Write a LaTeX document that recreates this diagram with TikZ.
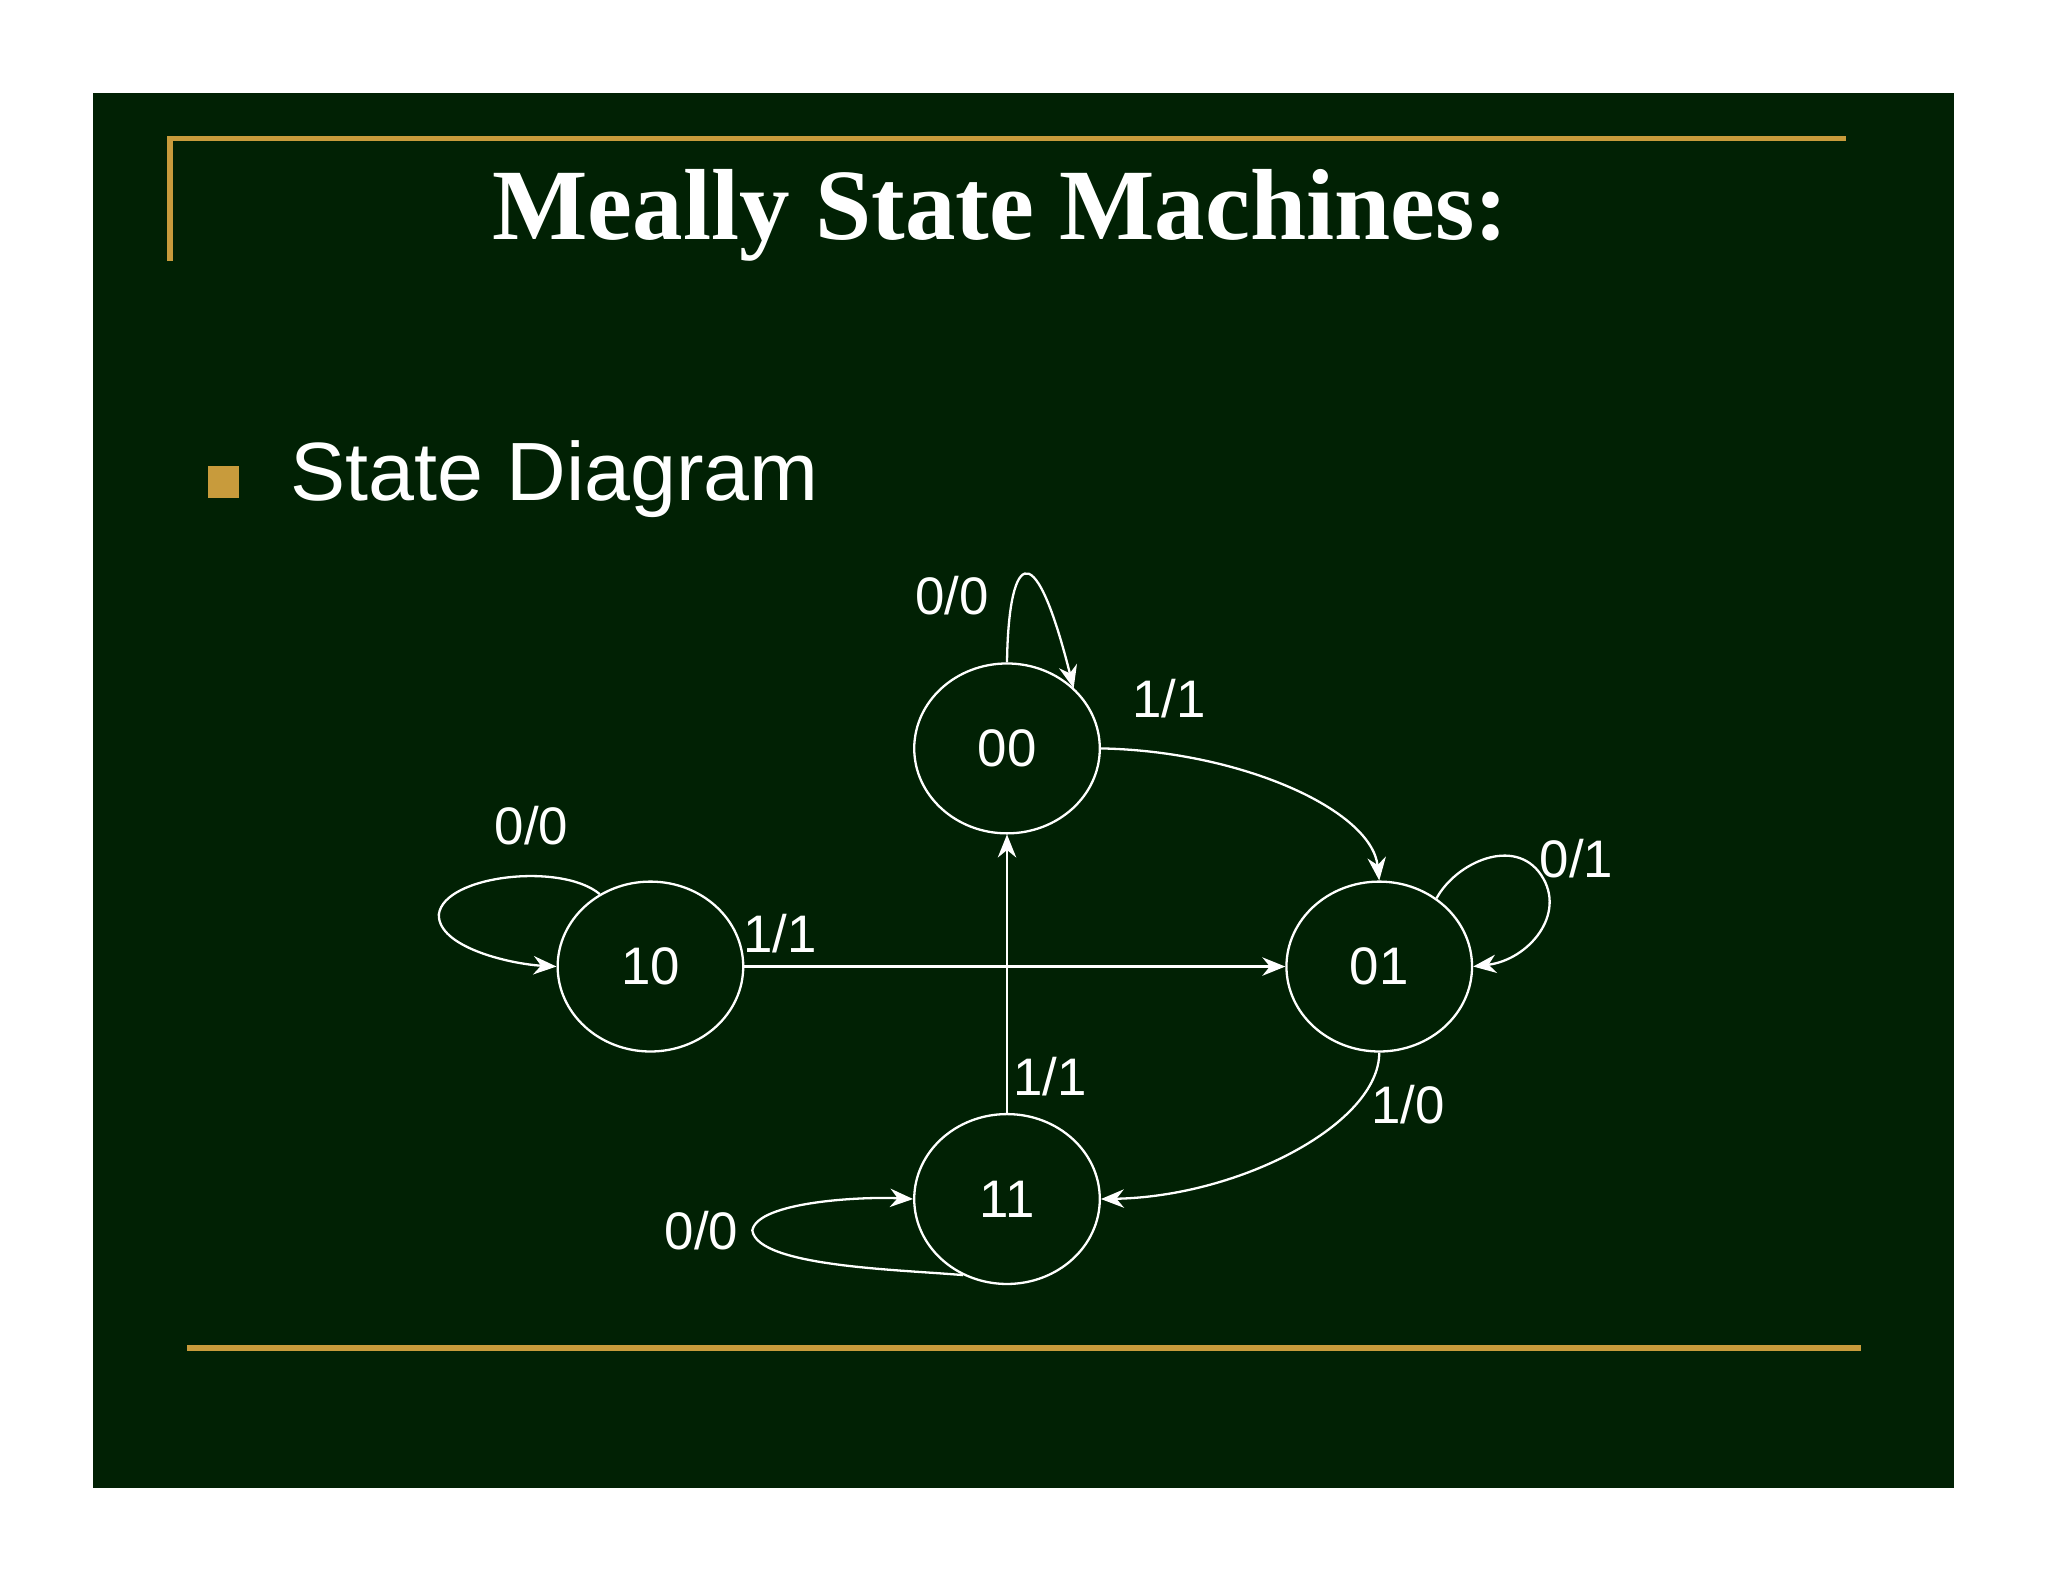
\documentclass[tikz,border=0pt]{standalone}
\usepackage{fontspec}
\setmainfont{Liberation Serif}
\setsansfont{Liberation Sans}
\usetikzlibrary{arrows.meta}
\definecolor{bg}{HTML}{012104}
\definecolor{gold}{HTML}{C89B3C}
\begin{document}
\begin{tikzpicture}[x=0.01cm,y=-0.01cm,
  st/.style={draw=white,ellipse,minimum width=142\pgflinewidth,line width=0.5pt},
  edge/.style={draw=white,line width=0.5pt,-{Stealth[length=5pt,width=4pt]}},
  lbl/.style={text=white,font=\sffamily\fontsize{11.5}{12}\selectfont}]
\useasboundingbox (0,0) rectangle (1568,1211);
\fill[white] (0,0) rectangle (1568,1211);
\fill[bg] (71,71) rectangle (1496,1139);
\draw[gold,line width=1.2pt] (130,200) -- (130,106) -- (1413,106);
\draw[gold,line width=1.2pt] (143,1032) -- (1425,1032);
\node[text=white,font=\bfseries\fontsize{22}{24}\selectfont] (title) at (766,165) {Meally State Machines:};
\fill[gold] (159,357) rectangle (183,381);
\node[text=white,font=\sffamily\fontsize{18}{20}\selectfont,anchor=base west] (sd) at (210,383) {State Diagram};
\tikzset{ell/.style={draw=white,line width=0.5pt,shape=ellipse,minimum width=1.42cm,minimum height=1.3cm,inner sep=0pt,text=white,font=\sffamily\fontsize{11.5}{12}\selectfont}}
\usetikzlibrary{shapes.geometric}
\node[ell] (s00) at (771,573) {00};
\node[ell] (s10) at (498,740) {10};
\node[ell] (s01) at (1056,740) {01};
\node[ell] (s11) at (771,918) {11};
% loops
\draw[edge] (s00.90) .. controls (772,430) and (790,400) .. (822,527);
\node[lbl] (l1) at (729,456) {0/0};
\draw[edge] (s10.125) .. controls (430,660) and (340,670) .. (336,700) .. controls (335,725) and (390,738) .. (s10.180);
\node[lbl] (l2) at (407,632) {0/0};
\draw[edge] (s01.50) .. controls (1115,660) and (1160,640) .. (1180,670) .. controls (1200,700) and (1170,735) .. (s01.0);
\node[lbl] (l3) at (1207,657) {0/1};
\draw[edge] (s11.240) .. controls (690,972) and (580,970) .. (576,942) .. controls (580,920) and (660,916) .. (s11.180);
\node[lbl] (l4) at (537,942) {0/0};
% transitions
\draw[edge] (s00.0) .. controls (950,575) and (1050,620) .. (s01.90);
\node[lbl] (l5) at (895,535) {1/1};
\draw[edge] (s10.0) -- (s01.180);
\node[lbl] (l6) at (597,715) {1/1};
\draw[edge] (s11.90) -- (s00.270);
\node[lbl] (l7) at (804,824) {1/1};
\draw[edge] (s01.270) .. controls (1056,860) and (950,916) .. (s11.0);
\node[lbl] (l8) at (1078,846) {1/0};
\end{tikzpicture}
\end{document}
